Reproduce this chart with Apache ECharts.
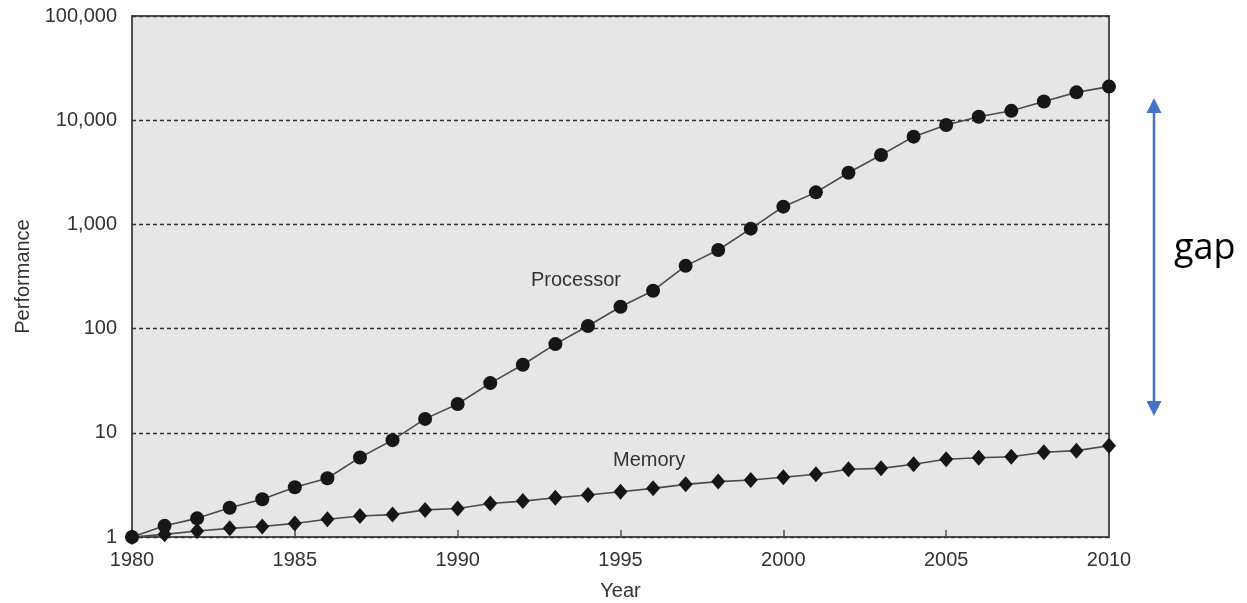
<!DOCTYPE html>
<html>
<head>
<meta charset="utf-8">
<script src="https://cdn.jsdelivr.net/npm/echarts@6/dist/echarts.min.js"></script>
<style>
  html, body { margin: 0; padding: 0; background: #ffffff; }
  #chart { width: 1247px; height: 603px; }
</style>
</head>
<body>
<div id="chart"></div>
<script>
// Processor vs. memory performance, 1980 = 1 (log scale)
const years = [1980, 1981, 1982, 1983, 1984, 1985, 1986, 1987, 1988, 1989,
               1990, 1991, 1992, 1993, 1994, 1995, 1996, 1997, 1998, 1999,
               2000, 2001, 2002, 2003, 2004, 2005, 2006, 2007, 2008, 2009, 2010];

const processor = [1, 1.28, 1.51, 1.91, 2.3, 3.0, 3.66, 5.8, 8.5, 13.6,
                   18.9, 30, 45, 71, 106, 162, 231, 400, 568, 910,
                   1480, 2030, 3130, 4630, 6950, 9000, 10800, 12300, 15100, 18500, 21000];

const memory = [1, 1.06, 1.14, 1.21, 1.26, 1.35, 1.48, 1.59, 1.64, 1.82,
                1.88, 2.1, 2.21, 2.38, 2.53, 2.72, 2.93, 3.2, 3.4, 3.52,
                3.74, 4.0, 4.47, 4.56, 4.99, 5.57, 5.77, 5.9, 6.5, 6.74, 7.52];

const yTicks = [1, 10, 100, 1000, 10000, 100000];

const FONT = '"Liberation Sans", Arial, Helvetica, sans-serif';
const TEXT = '#333333';
const BLUE = '#4472C4';

const chart = echarts.init(document.getElementById('chart'));

function pairs(vals) {
  return years.map((y, i) => [y, vals[i]]);
}

chart.setOption({
  animation: false,
  backgroundColor: '#ffffff',
  grid: {
    left: 132, right: 138, top: 16, bottom: 66,
    containLabel: false,
    outerBoundsMode: 'none',
    show: true,
    backgroundColor: '#e6e6e7',
    borderColor: '#505050',
    borderWidth: 2
  },
  xAxis: {
    type: 'value',
    min: 1980, max: 2010, interval: 5,
    name: 'Year',
    nameLocation: 'middle',
    nameGap: 44,
    nameTextStyle: { fontFamily: FONT, fontSize: 20, color: TEXT },
    axisLine: { show: false },
    axisTick: { show: true, inside: true, length: 7, lineStyle: { color: '#505050', width: 1.5 } },
    axisLabel: {
      fontFamily: FONT, fontSize: 20, color: TEXT, margin: 13,
      formatter: v => String(v)
    },
    splitLine: { show: false }
  },
  yAxis: {
    type: 'log',
    logBase: 10,
    min: yTicks[0], max: yTicks[yTicks.length - 1],
    name: 'Performance',
    nameLocation: 'middle',
    nameRotate: 90,
    nameGap: 98,
    nameTextStyle: { fontFamily: FONT, fontSize: 20, color: TEXT },
    axisLine: { show: false },
    axisTick: { show: false },
    axisLabel: {
      fontFamily: FONT, fontSize: 20, color: TEXT, margin: 15,
      formatter: v => Math.round(v).toLocaleString('en-US')
    },
    splitLine: {
      show: true,
      lineStyle: { color: '#333333', width: 1.4, type: [4, 3] }
    }
  },
  series: [
    {
      name: 'Processor',
      type: 'line',
      data: pairs(processor),
      symbol: 'circle',
      symbolSize: 14,
      clip: false,
      lineStyle: { color: '#4a4a4a', width: 1.6 },
      itemStyle: { color: '#161616' },
      z: 3
    },
    {
      name: 'Memory',
      type: 'line',
      data: pairs(memory),
      symbol: 'diamond',
      symbolSize: [14, 16],
      clip: false,
      lineStyle: { color: '#4a4a4a', width: 1.6 },
      itemStyle: { color: '#161616' },
      z: 2
    }
  ],
  graphic: [
    // series captions
    {
      type: 'text', left: 531, top: 270, z: 10,
      style: { text: 'Processor', font: '20px ' + FONT, fill: TEXT }
    },
    {
      type: 'text', left: 613, top: 450, z: 10,
      style: { text: 'Memory', font: '20px ' + FONT, fill: TEXT }
    },
    // double-headed "gap" arrow
    {
      type: 'line', z: 10,
      shape: { x1: 1154, y1: 110, x2: 1154, y2: 404 },
      style: { stroke: BLUE, lineWidth: 2.5 }
    },
    {
      type: 'polygon', z: 10,
      shape: { points: [[1154, 98], [1146.5, 113], [1161.5, 113]] },
      style: { fill: BLUE }
    },
    {
      type: 'polygon', z: 10,
      shape: { points: [[1154, 416], [1146.5, 401], [1161.5, 401]] },
      style: { fill: BLUE }
    },
    {
      type: 'text', left: 1174, top: 231, z: 10,
      style: { text: 'gap', font: '36px "Open Sans", "Noto Sans", sans-serif', fill: '#000000' }
    }
  ]
});
</script>
</body>
</html>
